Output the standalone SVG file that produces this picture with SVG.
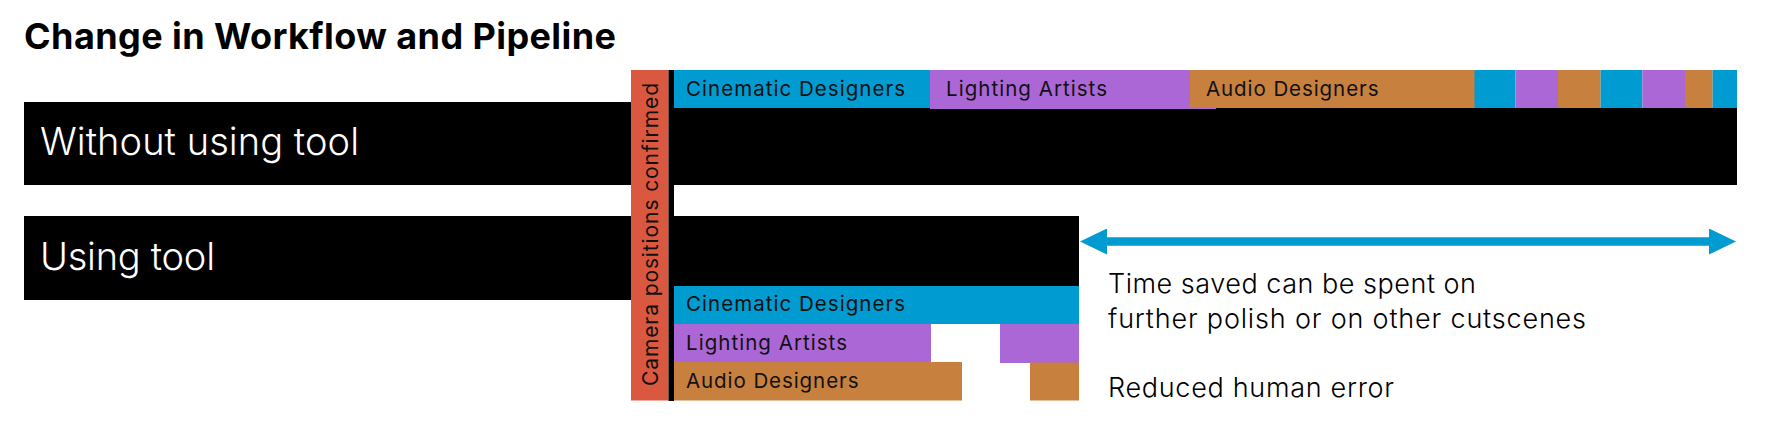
<svg xmlns="http://www.w3.org/2000/svg" width="1779" height="423" viewBox="0 0 1779 423">
<style>
.title{font-family:Inter,"Liberation Sans",sans-serif;font-weight:700;font-size:36px;fill:#000}
.rowlbl{font-family:Inter,"Liberation Sans",sans-serif;font-weight:300;font-size:38px;fill:#fff}
.bar{font-family:Inter,"Liberation Sans",sans-serif;font-weight:400;font-size:20.5px;fill:#111}
.note{font-family:Inter,"Liberation Sans",sans-serif;font-weight:300;font-size:27px;fill:#000}
.blk{fill:#000}
.cin{fill:#009BD0}
.lig{fill:#AB67D6}
.aud{fill:#C7803D}
.cam{fill:#D9583F}
</style>
<defs>
<marker id="ah" viewBox="0 0 27 26" markerUnits="userSpaceOnUse" markerWidth="27" markerHeight="26" refX="3" refY="13" orient="auto-start-reverse">
<path d="M0,0 L27,13 L0,26 z" fill="#009BD0"/>
</marker>
</defs>
<rect width="1779" height="423" fill="#fff"/>
<g id="title"><text class="title" x="24" y="49" textLength="592">Change in Workflow and Pipeline</text></g>

<g id="row-without">
<rect class="blk" x="24" y="102" width="610" height="83"/>
<text class="rowlbl" x="40" y="155" textLength="319">Without using tool</text>
</g>
<g id="row-with">
<rect class="blk" x="24" y="216" width="610" height="84"/>
<text class="rowlbl" x="40" y="270" textLength="175">Using tool</text>
</g>

<g id="timeline-without">
<rect class="blk" x="674" y="108" width="1063" height="77"/>
<rect class="lig" x="930" y="70" width="286" height="39"/>
<rect class="cin" x="674" y="70" width="256" height="38"/>
<rect class="aud" x="1190" y="70" width="285" height="38"/>
<rect class="cin" x="1474.5" y="70" width="41" height="38"/>
<rect class="lig" x="1515.5" y="70" width="42.5" height="38"/>
<rect class="aud" x="1558" y="70" width="42.6" height="38"/>
<rect class="cin" x="1600.6" y="70" width="41.8" height="38"/>
<rect class="lig" x="1642.4" y="70" width="42.6" height="38"/>
<rect class="aud" x="1685" y="70" width="27.6" height="38"/>
<rect class="cin" x="1712.6" y="70" width="24.4" height="38"/>
<text class="bar" x="686" y="96" textLength="219">Cinematic Designers</text>
<text class="bar" x="946" y="96" textLength="161">Lighting Artists</text>
<text class="bar" x="1206" y="96" textLength="172.5">Audio Designers</text>
</g>

<g id="timeline-with">
<rect class="blk" x="674" y="216" width="405" height="70"/>
<rect class="cin" x="674" y="286" width="405" height="38"/>
<rect class="lig" x="674" y="324" width="257" height="38.5"/>
<rect class="lig" x="1000" y="324" width="79" height="39"/>
<rect class="aud" x="674" y="362" width="288" height="38.5"/>
<rect class="aud" x="1030" y="362.5" width="49" height="38"/>
<text class="bar" x="686" y="311" textLength="219">Cinematic Designers</text>
<text class="bar" x="686" y="350" textLength="161">Lighting Artists</text>
<text class="bar" x="686" y="388" textLength="172.5">Audio Designers</text>
</g>

<g id="camera-milestone">
<rect class="cam" x="631" y="70" width="37.5" height="330.5"/>
<rect class="blk" x="668.5" y="70" width="5.5" height="331"/>
<text class="bar" transform="translate(657.5,386) rotate(-90)" textLength="303" style="font-size:21px">Camera positions confirmed</text>
</g>

<g id="connectors">
<line x1="1104" y1="241.5" x2="1712" y2="241.5" stroke="#009BD0" stroke-width="8.7" marker-start="url(#ah)" marker-end="url(#ah)"/>
</g>

<g id="notes">
<text class="note" x="1108" y="293" textLength="368">Time saved can be spent on</text>
<text class="note" x="1108" y="328" textLength="478">further polish or on other cutscenes</text>
<text class="note" x="1108" y="397" textLength="286">Reduced human error</text>
</g>
</svg>
